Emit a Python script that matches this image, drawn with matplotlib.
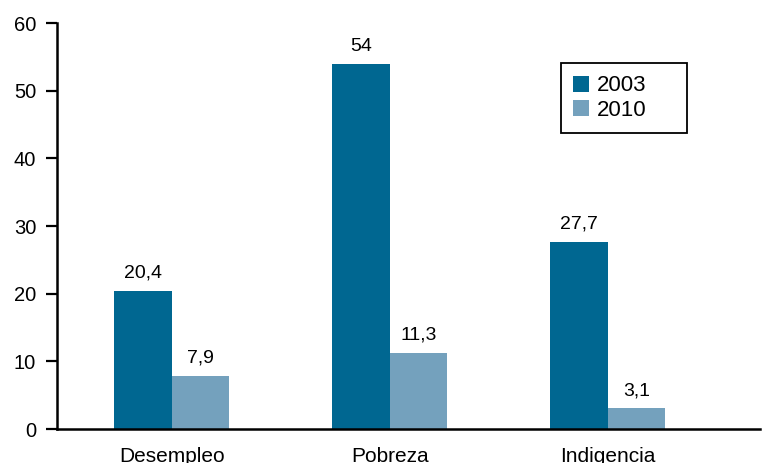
import numpy as np
from matplotlib import pyplot as plt

# Data
categories = ['Desempleo', 'Pobreza', 'Indigencia']
values_2003 = [20.4, 54, 27.7]
values_2010 = [7.9, 11.3, 3.1]
series_labels = ['2003', '2010']

color_2003 = '#006791'
color_2010 = '#74a1bd'

plt.rcParams['font.family'] = ['Liberation Sans', 'DejaVu Sans']

fig = plt.figure(figsize=(7.67, 4.63), dpi=100)
ax = fig.add_axes([0.0743, 0.0734, 0.9167, 0.8769])

x = np.arange(len(categories))
width = 0.264

bars1 = ax.bar(x - width / 2, values_2003, width, color=color_2003, label=series_labels[0])
bars2 = ax.bar(x + width / 2, values_2010, width, color=color_2010, label=series_labels[1])


def fmt(v):
    if float(v).is_integer():
        return str(int(v))
    return str(v).replace('.', ',')


# value labels above bars
for bars, vals in [(bars1, values_2003), (bars2, values_2010)]:
    for b, v in zip(bars, vals):
        ax.annotate(fmt(v), (b.get_x() + b.get_width() / 2, v),
                    xytext=(0, 6.5), textcoords='offset points',
                    ha='center', va='bottom', fontsize=14)

ax.set_xlim(-0.528, 2.70)
ax.set_ylim(0, 60)
ax.set_yticks(range(0, 61, 10))
ax.set_xticks(x)
ax.set_xticklabels(categories, fontsize=15)
ax.tick_params(axis='x', length=0, pad=13)
ax.tick_params(axis='y', labelsize=14.5, length=8, width=1.6, direction='out', pad=7)

for s in ['top', 'right']:
    ax.spines[s].set_visible(False)
ax.spines['left'].set_linewidth(1.8)
ax.spines['bottom'].set_linewidth(1.8)

leg = ax.legend(loc='upper left', bbox_to_anchor=(0.717, 0.901, 0.179, 0.0),
                mode='expand', borderaxespad=0, fontsize=16,
                handlelength=0.72, handleheight=0.72, handletextpad=0.33,
                borderpad=0.55, labelspacing=0.15, fancybox=False, framealpha=1)
leg.get_frame().set_edgecolor('black')
leg.get_frame().set_linewidth(1.3)

plt.savefig('out.png', dpi=100)
